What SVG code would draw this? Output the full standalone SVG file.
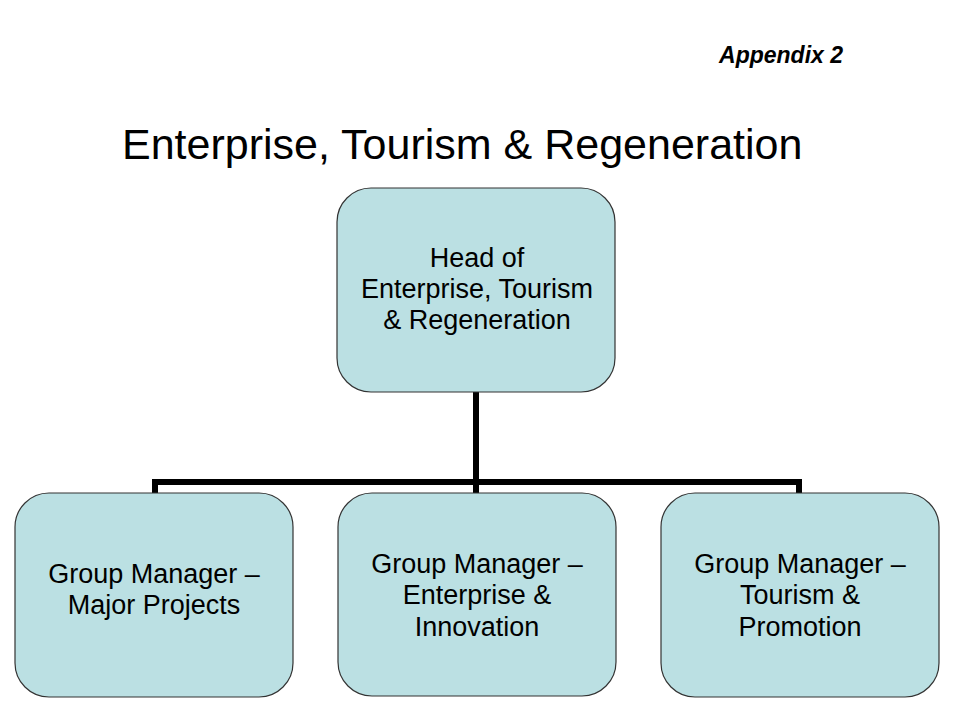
<svg xmlns="http://www.w3.org/2000/svg" width="960" height="720" viewBox="0 0 960 720">
<style>
.node{fill:#bbe0e3;stroke:#333333;stroke-width:1.2}
.lbl{font-family:"Liberation Sans",Arial,sans-serif;font-size:27px;fill:#000;text-anchor:middle}
.conn{fill:none;stroke:#000;stroke-width:6;stroke-linejoin:miter;stroke-linecap:butt}
</style>
<rect width="960" height="720" fill="#ffffff"/>
<text x="843" y="63" font-family="Liberation Sans, Arial, sans-serif" font-size="23" font-weight="bold" font-style="italic" text-anchor="end">Appendix 2</text>
<text x="122" y="159" font-family="Liberation Sans, Arial, sans-serif" font-size="43">Enterprise, Tourism &amp; Regeneration</text>
<g id="connectors">
<path class="conn" d="M155 493 V482 H799 V493"/>
<path class="conn" d="M476 392 V493"/>
</g>
<g id="head">
<rect class="node" x="337" y="188" width="278" height="204" rx="34" ry="34"/>
<text class="lbl"><tspan x="477" y="267">Head of</tspan><tspan x="477" y="298">Enterprise, Tourism</tspan><tspan x="477" y="329">&amp; Regeneration</tspan></text>
</g>
<g id="gm-major-projects">
<rect class="node" x="15" y="493" width="278" height="204" rx="34" ry="34"/>
<text class="lbl"><tspan x="154" y="583">Group Manager –</tspan><tspan x="154" y="614">Major Projects</tspan></text>
</g>
<g id="gm-enterprise-innovation">
<rect class="node" x="338" y="493" width="278" height="203" rx="34" ry="34"/>
<text class="lbl"><tspan x="477" y="573">Group Manager –</tspan><tspan x="477" y="604">Enterprise &amp;</tspan><tspan x="477" y="636">Innovation</tspan></text>
</g>
<g id="gm-tourism-promotion">
<rect class="node" x="661" y="493" width="278" height="204" rx="34" ry="34"/>
<text class="lbl"><tspan x="800" y="573">Group Manager –</tspan><tspan x="800" y="604">Tourism &amp;</tspan><tspan x="800" y="636">Promotion</tspan></text>
</g>
</svg>
